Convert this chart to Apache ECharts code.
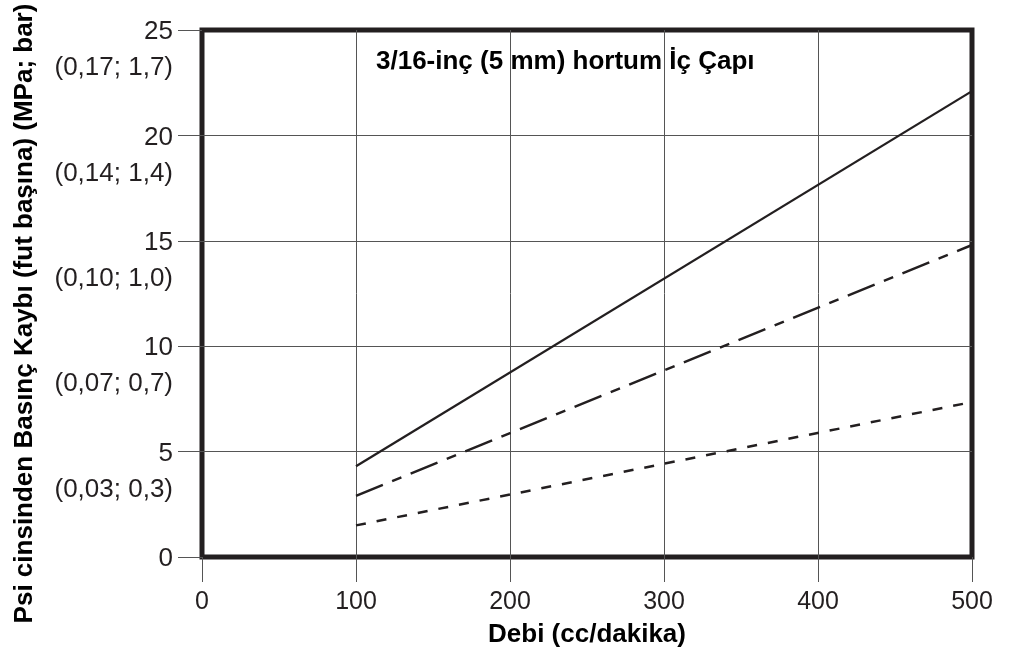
<!DOCTYPE html>
<html>
<head>
<meta charset="utf-8">
<script src="https://cdn.jsdelivr.net/npm/echarts@6/dist/echarts.min.js"></script>
<style>
html,body{margin:0;padding:0;background:#fff;}
#c{width:1010px;height:653px;}
</style>
</head>
<body>
<div id="c"></div>
<script>
// Data
const flowX = [100, 500];
const lossSolid = [4.3, 22.1];
const lossDashDot = [2.9, 14.8];
const lossDashed = [1.5, 7.35];
const yTickValues = [0, 5, 10, 15, 20, 25];
const yMetricLabels = ['', '(0,03; 0,3)', '(0,07; 0,7)', '(0,10; 1,0)', '(0,14; 1,4)', '(0,17; 1,7)'];
const xTickValues = [0, 100, 200, 300, 400, 500];
const chartTitle = '3/16-inç (5 mm) hortum İç Çapı';
const xName = 'Debi (cc/dakika)';
const yName = 'Psi cinsinden Basınç Kaybı (fut başına) (MPa; bar)';

function pairs(xs, ys) { return xs.map((x, i) => [x, ys[i]]); }

const chart = echarts.init(document.getElementById('c'), null, {renderer: 'canvas'});
const FONT = 'Liberation Sans, Arial, Helvetica, sans-serif';
const ink = '#231f20';

chart.setOption({
  animation: false,
  backgroundColor: '#fff',
  title: {
    text: chartTitle,
    left: 376, top: 49, padding: 0,
    textStyle: {fontFamily: FONT, fontWeight: 'bold', fontSize: 26, color: '#000'}
  },
  grid: {
    left: 202, right: 38, top: 30, bottom: 96,
    containLabel: false, outerBoundsMode: 'none',
    show: true, borderColor: ink, borderWidth: 5, backgroundColor: 'transparent'
  },
  xAxis: {
    type: 'value', min: 0, max: 500, interval: 100,
    name: xName, nameLocation: 'middle', nameGap: 65,
    nameTextStyle: {fontFamily: FONT, fontWeight: 'bold', fontSize: 26, color: '#000'},
    axisLine: {show: false},
    axisTick: {show: true, length: 25, lineStyle: {color: '#555', width: 1}},
    splitLine: {show: true, showMinLine: false, showMaxLine: false, lineStyle: {color: '#555', width: 1}},
    axisLabel: {
      margin: 33, fontFamily: FONT, fontSize: 25, color: ink,
      formatter: v => xTickValues.indexOf(v) >= 0 ? String(v) : ''
    }
  },
  yAxis: {
    type: 'value', min: 0, max: 25, interval: 5,
    name: yName, nameLocation: 'middle', nameGap: 164, nameRotate: 90,
    nameTextStyle: {fontFamily: FONT, fontWeight: 'bold', fontSize: 26, color: '#000', padding: [0, 40, 0, 0]},
    axisLine: {show: false},
    axisTick: {show: true, length: 24, lineStyle: {color: '#555', width: 1}},
    splitLine: {show: true, showMinLine: false, showMaxLine: false, lineStyle: {color: '#555', width: 1}},
    axisLabel: {
      margin: 29, fontFamily: FONT, fontSize: 26, color: ink, align: 'right', verticalAlign: 'middle',
      formatter: function (v) {
        const i = yTickValues.indexOf(v);
        const m = i >= 0 && yMetricLabels[i] ? yMetricLabels[i] : ' ';
        return '{e| }\n{a|' + v + '}\n{b|' + m + '}';
      },
      rich: {
        e: {fontFamily: FONT, fontSize: 26, lineHeight: 46, color: ink, align: 'right'},
        a: {fontFamily: FONT, fontSize: 26, lineHeight: 30, color: ink, align: 'right'},
        b: {fontFamily: FONT, fontSize: 26, lineHeight: 42, color: ink, align: 'right'}
      }
    }
  },
  series: [
    {type: 'line', data: pairs(flowX, lossSolid), symbol: 'none', silent: true,
     lineStyle: {color: ink, width: 2.3, type: 'solid'}},
    {type: 'line', data: pairs(flowX, lossDashDot), symbol: 'none', silent: true,
     lineStyle: {color: ink, width: 2.5, type: [29, 10, 10, 10]}},
    {type: 'line', data: pairs(flowX, lossDashed), symbol: 'none', silent: true,
     lineStyle: {color: ink, width: 2.5, type: [10, 11]}}
  ]
});
</script>
</body>
</html>
